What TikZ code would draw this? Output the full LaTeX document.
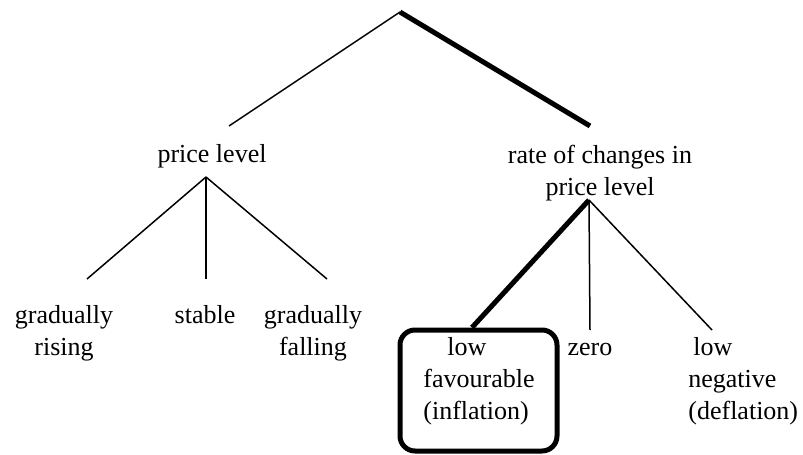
\documentclass[tikz,border=0pt]{standalone}
\usepackage{fontspec}
\setmainfont{Liberation Serif}
\usepackage{tikz}

\begin{document}
\begin{tikzpicture}[x=0.5pt,y=-0.5pt]
\tikzstyle{every node}+=[inner sep=0pt, font=\fontsize{13}{16}\selectfont]
\tikzstyle{branch}=[black, line width=0.75pt]
\tikzstyle{mainbranch}=[black, line width=2.5pt]
\tikzstyle{chosen}=[draw, black, line width=2.5pt, rounded corners=7.5pt, minimum width=78.5pt, minimum height=60.5pt]
\useasboundingbox (0,0) rectangle (803,455);
% forks and free ends
\coordinate (root) at (400,12);
\coordinate (pl-tip) at (229,126);
\coordinate (pl-fork) at (206,177);
\coordinate (rate-tip) at (590,126);
\coordinate (rate-fork) at (589,200);
\coordinate (rise-tip) at (87,279);
\coordinate (stab-tip) at (206,279);
\coordinate (fall-tip) at (327,279);
\coordinate (zero-tip) at (590,330);
\coordinate (defl-tip) at (712,330);
% labels
\node (pl) [anchor=base] at (212,162) {price level};
\node (rate) [anchor=north, align=center] at (600,145) {rate of changes in\\price level};
\node (rise) [anchor=north, align=center] at (64,305) {gradually\\rising};
\node (stab) [anchor=base] at (205,323) {stable};
\node (fall) [anchor=north, align=center] at (313,305) {gradually\\falling};
\node (inflbox) [chosen] at (478.5,390.5) {};
\node (infl) [anchor=north west, align=left] at (423,337) {\hspace{12pt}low\\favourable\\(inflation)};
\node (zero) [anchor=base] at (590,355) {zero};
\node (defl) [anchor=north west, align=left] at (688,337) {\hspace{2.5pt}low\\negative\\(deflation)};
% tree
\draw [branch] (root) -- (pl-tip);
\draw [mainbranch] (root) -- (rate-tip);
\draw [branch] (pl-fork) -- (rise-tip);
\draw [branch] (pl-fork) -- (stab-tip);
\draw [branch] (pl-fork) -- (fall-tip);
\draw [mainbranch] (rate-fork) -- ([xshift=-3.25pt]inflbox.north);
\draw [branch] (rate-fork) -- (zero-tip);
\draw [branch] (rate-fork) -- (defl-tip);
\end{tikzpicture}
\end{document}
